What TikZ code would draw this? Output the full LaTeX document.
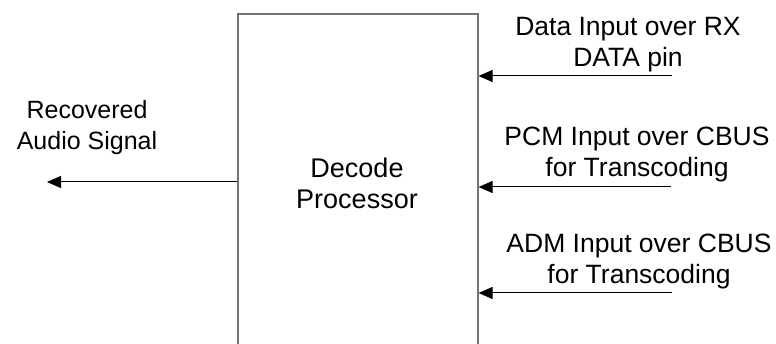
\documentclass[tikz,border=0pt]{standalone}
\usepackage{fontspec}
\setmainfont{Liberation Sans}
\usetikzlibrary{arrows.meta}
\begin{document}
\begin{tikzpicture}[x=1pt,y=-1pt,
  label/.style={align=center,inner sep=0pt,font=\fontsize{26.5}{31}\selectfont},
  sig/.style={draw=black,line width=1pt,-{Triangle[length=14pt,width=12pt]}},
  block/.style={draw=black!55,line width=1.8pt,minimum width=240pt,minimum height=360pt,inner sep=0pt}]
\useasboundingbox (0,0) rectangle (776,344);
\clip (0,0) rectangle (776,344);
% processor block, open past the lower edge
\node[block] (box) at (357.7,194) {};
\node[label,font=\fontsize{27}{31}\selectfont] (dp) at (357,183) {Decode\\Processor};
% output side
\node[label,font=\fontsize{25}{31}\selectfont] (out) at (87,128) {Recovered\\Audio Signal};
\coordinate (outend) at (47,182);
\draw[sig] (box.west |- outend) -- (outend);
% input side
\node[label] (rx) at (628,45) {Data Input over RX\\DATA pin};
\node[label] (pcm) at (637,155) {PCM Input over CBUS\\for Transcoding};
\node[label] (adm) at (639,261) {ADM Input over CBUS\\for Transcoding};
\coordinate (rxs) at (672,76);
\coordinate (pcms) at (671,187);
\coordinate (adms) at (672,293);
\draw[sig] (rxs) -- (box.east |- rxs);
\draw[sig] (pcms) -- (box.east |- pcms);
\draw[sig] (adms) -- (box.east |- adms);
\end{tikzpicture}
\end{document}
